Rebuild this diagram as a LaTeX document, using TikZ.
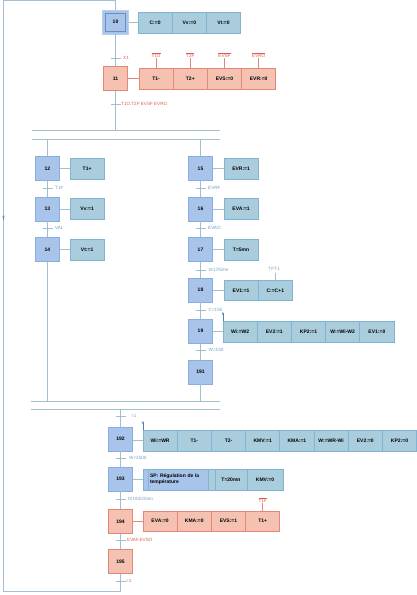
\documentclass[tikz,border=0pt]{standalone}
\usepackage{fontspec}
\setmainfont{Liberation Sans}
\usetikzlibrary{arrows.meta}
\definecolor{stepfill}{HTML}{A9C4EB}
\definecolor{stepdraw}{HTML}{8AAEE0}
\definecolor{stepdark}{HTML}{6C8EBF}
\definecolor{actfill}{HTML}{A9CDDC}
\definecolor{actdraw}{HTML}{82B4D2}
\definecolor{rfill}{HTML}{F5C2B2}
\definecolor{rdraw}{HTML}{E3877A}
\definecolor{conncol}{HTML}{A3BFCF}
\definecolor{tblue}{HTML}{6E9DC4}
\definecolor{tred}{HTML}{E0584E}
\definecolor{arrblue}{HTML}{4F7DB3}
\begin{document}
\begin{tikzpicture}[x=1pt,y=-1pt,
  stepbox/.style={draw=stepdraw, fill=stepfill, minimum width=24pt, minimum height=24pt, inner sep=0pt, line width=0.7pt, font=\fontsize{5}{6}\selectfont\bfseries},
  rstepbox/.style={stepbox, draw=rdraw, fill=rfill},
  actcell/.style={draw=actdraw, fill=actfill, minimum width=34.2pt, minimum height=21pt, inner sep=0pt, outer sep=0pt, anchor=west, line width=0.7pt, font=\fontsize{5}{6}\selectfont\bfseries},
  ractcell/.style={actcell, draw=rdraw, fill=rfill},
  conn/.style={draw=conncol, line width=0.7pt},
  rconn/.style={draw=rdraw, line width=0.7pt},
  tlab/.style={anchor=west, inner sep=0pt, text=tblue, font=\fontsize{4.6}{5}\selectfont},
  rlab/.style={tlab, text=tred},
  olab/.style={inner sep=0.5pt, text=tred, font=\fontsize{4.6}{5}\selectfont},
  redge/.style={draw=arrblue, line width=0.6pt, -{Stealth[length=3pt,width=2.4pt]}}
]
\useasboundingbox (0,0) rectangle (416,595);

% ---- parallel bars
\draw[conn] (32,130) -- (220,130);
\draw[conn] (32,139) -- (220,139);
\draw[conn] (31,401) -- (220,401);
\draw[conn] (31,409) -- (220,409);
\coordinate (b1) at (115.5,130);
\coordinate (b2L) at (47.5,139);
\coordinate (b2R) at (200.5,139);
\coordinate (b3L) at (47.5,401);
\coordinate (b3R) at (200.5,401);
\coordinate (b4) at (120.5,409);

% ---- step 10 (initial)
\node[stepbox, minimum width=26pt, minimum height=24pt, draw=stepfill!80!white] (s10) at (115.5,22) {};
\node[stepbox, minimum width=20pt, minimum height=18pt, draw=stepdark, line width=0.5pt] (s10i) at (115.5,22) {10};
\node[actcell] (a10a) at (138,22.5) {C:=0};
\node[actcell] (a10b) at (a10a.east) {Vv:=0};
\node[actcell] (a10c) at (a10b.east) {Vt:=0};
\draw[conn] (s10.east |- a10a.west) -- (a10a.west);

% ---- step 11
\node[rstepbox] (s11) at (115.5,78.5) {11};
\node[ractcell] (a11a) at (139,78.5) {T1-};
\node[ractcell] (a11b) at (a11a.east) {T2+};
\node[ractcell] (a11c) at (a11b.east) {EVS:=0};
\node[ractcell] (a11d) at (a11c.east) {EVR:=0};
\draw[rconn] (s11) -- (a11a);
\node[olab] (o11a) at (a11a.north |- 0,55) {$\overline{\mbox{T1O}}$};
\node[olab] (o11b) at (a11b.north |- 0,55) {$\overline{\mbox{T2F}}$};
\node[olab] (o11c) at (a11c.north |- 0,55) {$\overline{\mbox{EVSF}}$};
\node[olab] (o11d) at (a11d.north |- 0,55) {$\overline{\mbox{EVRO}}$};
\foreach \c in {a,b,c,d} \draw[rconn] (o11\c.south) -- (a11\c.north);

% ---- transitions top
\draw[conn] (s10) -- (s11);
\draw[conn] (110.5,58) -- (120.5,58);
\node[rlab] (t1) at (123,58) {X1};
\draw[conn] (s11) -- (b1);
\draw[conn] (110.5,104) -- (120.5,104);
\node[rlab] (t2) at (121,104) {T1O.T2F EVSF EVRO};

% ---- left branch
\node[stepbox] (s12) at (47.5,168.5) {12};
\node[stepbox] (s13) at (47.5,209) {13};
\node[stepbox] (s14) at (47.5,249.5) {14};
\node[actcell] (a12) at (70,168.5) {T1+};
\node[actcell] (a13) at (70,209) {Vv:=1};
\node[actcell] (a14) at (70,249.5) {Vt:=1};
\foreach \n in {12,13,14} \draw[conn] (s\n) -- (a\n);
\draw[conn] (b2L) -- (s12);
\draw[conn] (s12) -- (s13);
\draw[conn] (s13) -- (s14);
\draw[conn] (s14) -- (b3L);
\draw[conn] (42.5,188) -- (52.5,188);
\node[tlab] (t3) at (55,188) {T1F};
\draw[conn] (42.5,228) -- (52.5,228);
\node[tlab] (t4) at (55,228) {VAL};

% ---- right branch
\node[stepbox] (s15) at (200.5,168.5) {15};
\node[stepbox] (s16) at (200.5,209) {16};
\node[stepbox] (s17) at (200.5,249.5) {17};
\node[stepbox] (s18) at (200.5,290) {18};
\node[stepbox] (s19) at (200.5,331) {19};
\node[stepbox] (s191) at (200.5,372) {191};
\node[actcell] (a15) at (224,168.5) {EVR:=1};
\node[actcell] (a16) at (224,209) {EVA:=1};
\node[actcell] (a17) at (224,249.5) {T=5mn};
\foreach \n in {15,16,17} \draw[conn] (s\n) -- (a\n);
\node[actcell, minimum height=20pt] (a18a) at (224,290.5) {EV1:=1};
\node[actcell, minimum height=20pt] (a18b) at (a18a.east) {C:=C+1};
\draw[conn] (s18.east |- a18a.west) -- (a18a.west);
\node[tlab] (ft1) at (267.5,269) {$\uparrow$FT1};
\draw[conn] (a18b.north |- 0,272.5) -- (a18b.north);
\node[actcell] (a19a) at (223,331.5) {Wi:=W2};
\node[actcell] (a19b) at (a19a.east) {EV2:=1};
\node[actcell] (a19c) at (a19b.east) {KP2:=1};
\node[actcell] (a19d) at (a19c.east) {W:=Wi-W2};
\node[actcell] (a19e) at (a19d.east) {EV1:=0};
\draw[conn] (s19.east |- a19a.west) -- (a19a.west);
\draw[redge] (a19a.north west) -- ++(0,-9);
\draw[conn] (b2R) -- (s15);
\draw[conn] (s15) -- (s16);
\draw[conn] (s16) -- (s17);
\draw[conn] (s17) -- (s18);
\draw[conn] (s18) -- (s19);
\draw[conn] (s19) -- (s191);
\draw[conn] (s191) -- (b3R);
\draw[conn] (195.5,188) -- (205.5,188);
\node[tlab] (t5) at (208,188) {EVRF};
\draw[conn] (195.5,228) -- (205.5,228);
\node[tlab] (t6) at (208,228) {EVAO};
\draw[conn] (195.5,270) -- (205.5,270);
\node[tlab] (t7) at (208.5,270) {tX17/5mn};
\draw[conn] (195.5,310) -- (205.5,310);
\node[tlab] (t8) at (208.5,310) {C=150};
\draw[conn] (195.5,350) -- (205.5,350);
\node[tlab] (t9) at (208.5,350) {W=150};

% ---- bottom sequence
\node[stepbox] (s192) at (120.5,439) {192};
\node[stepbox] (s193) at (120.5,479) {193};
\node[rstepbox] (s194) at (120.5,521.5) {194};
\node[rstepbox] (s195) at (120.5,561.5) {195};

\node[actcell] (a192a) at (143,440.5) {Wi:=WR};
\node[actcell] (a192b) at (a192a.east) {T1-};
\node[actcell] (a192c) at (a192b.east) {T2-};
\node[actcell] (a192d) at (a192c.east) {KMV:=1};
\node[actcell] (a192e) at (a192d.east) {KMA:=1};
\node[actcell] (a192f) at (a192e.east) {W:=WR-Wi};
\node[actcell] (a192g) at (a192f.east) {EV2:=0};
\node[actcell] (a192h) at (a192g.east) {KP2:=0};
\draw[conn] (s192.east |- a192a.west) -- (a192a.west);
\draw[redge] (a192a.north west) -- ++(0,-9);

\node[actcell, fill=stepfill, minimum width=5pt] (a193a) at (143,479.5) {};
\node[actcell, fill=stepfill, minimum width=60pt, align=left, text width=56pt, inner xsep=2pt] (a193b) at (a193a.east) {SP: Régulation de la\\température};
\node[actcell, minimum width=7pt] (a193c) at (a193b.east) {};
\node[actcell, minimum width=32pt] (a193d) at (a193c.east) {T=20mn};
\node[actcell, minimum width=36pt] (a193e) at (a193d.east) {KMV:=0};
\draw[conn] (s193.east |- a193a.west) -- (a193a.west);

\node[ractcell, minimum height=20pt] (a194a) at (143,521) {EVA:=0};
\node[ractcell, minimum height=20pt] (a194b) at (a194a.east) {KMA:=0};
\node[ractcell, minimum height=20pt] (a194c) at (a194b.east) {EVS:=1};
\node[ractcell, minimum height=20pt] (a194d) at (a194c.east) {T1+};
\draw[rconn] (s194.east |- a194a.west) -- (a194a.west);
\node[olab] (o194) at (a194d.north |- 0,500) {$\overline{\mbox{T1F}}$};
\draw[rconn] (o194.south) -- (a194d.north);

\draw[conn] (b4) -- (s192);
\draw[conn] (s192) -- (s193);
\draw[conn] (s193) -- (s194);
\draw[conn] (s194) -- (s195);
\draw[conn] (115.5,416) -- (125.5,416);
\node[tlab] (t10) at (131,416) {=1};
\draw[conn] (115.5,458) -- (125.5,458);
\node[tlab] (t11) at (129,458) {W=2500};
\draw[conn] (115.5,499) -- (125.5,499);
\node[tlab] (t12) at (128,499) {tX193/20mn};
\draw[conn] (115.5,540) -- (125.5,540);
\node[rlab] (t13) at (127,540) {EVAF.EVSO};
\draw[conn] (115.5,581) -- (125.5,581);
\node[rlab] (t14) at (126,581) {=1};

% ---- loop back to step 10
\coordinate (l1) at (120.5,591);
\coordinate (l2) at (3.5,591);
\coordinate (l3) at (3.5,0.5);
\coordinate (l4) at (115.5,0.5);
\draw[conn] (s195) -- (l1) -- (l2) -- (l3) -- (l4) -- (s10);
\draw[draw=conncol!70!black, line width=0.6pt, -{Stealth[length=2.5pt,width=2.2pt]}] (3.5,220) -- (3.5,215);
\end{tikzpicture}
\end{document}
